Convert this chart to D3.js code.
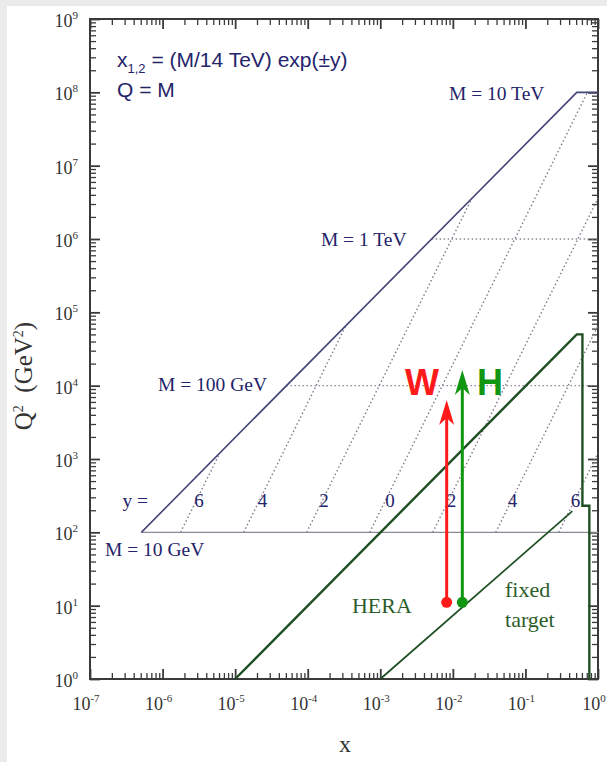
<!DOCTYPE html>
<html>
<head>
<meta charset="utf-8">
<script src="https://cdn.jsdelivr.net/npm/d3@7"></script>
<style>
body { margin: 0; background: #ebebeb; }
svg { display: block; }
</style>
</head>
<body>
<div id="chart-area"></div>
<script>
// decades on the axes
var xExponents = [-7, -6, -5, -4, -3, -2, -1, 0];
var yExponents = [0, 1, 2, 3, 4, 5, 6, 7, 8, 9];

// LHC kinematic limit (M = 10 GeV .. 10 TeV)
var boundary = [[5.1e-7, 100], [0.51, 1e8], [1, 1e8]];
var mass10GeV = [[5.1e-7, 100], [1, 100]];
var mass100GeV = [[5.1e-5, 1e4], [1, 1e4]];
var mass1TeV = [[5.1e-3, 1e6], [1, 1e6]];

// lines of constant rapidity: start on Q2 = 100, end on the limit
var rapidities = ["6", "4", "2", "0", "2", "4", "6"];
var rapidityStart = [[1.77e-6, 100], [1.31e-5, 100], [9.67e-5, 100], [7.14e-4, 100], [5.28e-3, 100], [0.039, 100], [0.288, 100]];
var rapidityEnd = [[6.14e-6, 1204], [3.35e-4, 6.57e4], [0.0183, 3.59e6], [0.714, 1e8], [1, 3.59e6], [1, 6.57e4], [1, 1204]];
var rapidityLabelX = [3.18e-6, 2.38e-5, 1.67e-4, 1.36e-3, 9.57e-3, 0.0664, 0.49];
var rapidityLabelQ2 = 222;

// HERA and fixed target regions
var hera = [[1e-5, 1], [0.51, 5.0e4], [0.61, 5.0e4], [0.61, 230], [0.76, 230], [0.76, 1]];
var fixedTarget = [[1e-3, 1], [0.443, 195]];

// W and H arrows
var bosons = ["W", "H"];
var bosonX = [8.22e-3, 0.0135];
var bosonFromQ2 = [11.1, 11.1];
var bosonToQ2 = [6380, 16400];
var bosonLabelX = [2.19e-3, 0.0215];
var bosonLabelQ2 = [7460, 7460];
var bosonColors = ["#ff1a1a", "#119611"];

var massLabels = ["M = 10 TeV", "M = 1 TeV", "M = 100 GeV", "M = 10 GeV"];
var massLabelX = [8.85e-3, 1.52e-4, 8.65e-7, 1.61e-7];
var massLabelQ2 = [7.9e7, 8.0e5, 8.5e3, 47.6];

var width = 607, height = 762;
var plotLeft = 90, plotRight = 598, plotTop = 19, plotBottom = 679;

var svg = d3.select("#chart-area").append("svg")
	.attr("width", width)
	.attr("height", height);

svg.append("rect").attr("width", width).attr("height", height).attr("fill", "#ebebeb");
svg.append("rect").attr("x", 7).attr("y", 6).attr("width", width - 7).attr("height", height - 6).attr("fill", "#ffffff");

var x = d3.scaleLog().domain([1e-7, 1]).range([plotLeft, plotRight]);
var y = d3.scaleLog().domain([1, 1e9]).range([plotBottom, plotTop]);

var line = d3.line()
	.x(d => x(d[0]))
	.y(d => y(d[1]));

var navy = "#24246a";
var darkGreen = "#1f4f22";

// ticks, all four sides pointing inward
var xMajor = xExponents.map(e => Math.pow(10, e));
var yMajor = yExponents.map(e => Math.pow(10, e));
var isMinor = v => Math.abs(Math.log10(v) - Math.round(Math.log10(v))) > 1e-9;
var xMinor = x.ticks().filter(isMinor);
var yMinor = y.ticks().filter(isMinor);

function drawAxis(axisFn, scale, vals, size, tx, ty) {
	var g = svg.append("g")
		.attr("transform", "translate(" + tx + "," + ty + ")")
		.call(axisFn(scale).tickValues(vals).tickSize(size).tickSizeOuter(0).tickFormat(""));
	g.select(".domain").remove();
	g.selectAll("line").attr("stroke", "#3a3a3a").attr("stroke-width", 1.3);
	return g;
}

drawAxis(d3.axisBottom, x, xMajor, -10, 0, plotBottom).selectAll("line").attr("stroke-width", 1.8);
drawAxis(d3.axisBottom, x, xMinor, -6, 0, plotBottom);
drawAxis(d3.axisTop, x, xMajor, -10, 0, plotTop).selectAll("line").attr("stroke-width", 1.8);
drawAxis(d3.axisTop, x, xMinor, -6, 0, plotTop);
drawAxis(d3.axisLeft, y, yMajor, -10, plotLeft, 0).selectAll("line").attr("stroke-width", 1.8);
drawAxis(d3.axisLeft, y, yMinor, -6, plotLeft, 0);
drawAxis(d3.axisRight, y, yMajor, -10, plotRight, 0).selectAll("line").attr("stroke-width", 1.8);
drawAxis(d3.axisRight, y, yMinor, -6, plotRight, 0);

svg.append("rect")
	.attr("x", plotLeft).attr("y", plotTop)
	.attr("width", plotRight - plotLeft).attr("height", plotBottom - plotTop)
	.attr("fill", "none")
	.attr("stroke", "#3a3a3a")
	.attr("stroke-width", 2);

// tick labels
var serif = "'Liberation Serif', 'DejaVu Serif', serif";

function powerLabel(sel) {
	sel.append("tspan").text("10");
	sel.append("tspan").attr("dy", -8).attr("font-size", 11).text(d => d);
}

svg.selectAll(".xlab").data(xExponents).enter().append("text")
	.attr("x", d => x(Math.pow(10, d)) - 4)
	.attr("y", 710)
	.attr("text-anchor", "middle")
	.attr("font-family", serif)
	.attr("font-size", 18)
	.attr("fill", "#333")
	.call(powerLabel);

svg.selectAll(".ylab").data(yExponents).enter().append("text")
	.attr("x", 78)
	.attr("y", d => y(Math.pow(10, d)) + 8)
	.attr("text-anchor", "end")
	.attr("font-family", serif)
	.attr("font-size", 18)
	.attr("fill", "#333")
	.call(powerLabel);

// axis titles
svg.append("text")
	.attr("x", 345).attr("y", 752)
	.attr("text-anchor", "middle")
	.attr("font-family", serif)
	.attr("font-size", 24)
	.attr("fill", "#333")
	.text("x");

var yTitle = svg.append("text")
	.attr("transform", "translate(32,376) rotate(-90)")
	.attr("text-anchor", "middle")
	.attr("font-family", serif)
	.attr("font-size", 25)
	.attr("fill", "#333");
yTitle.append("tspan").text("Q");
yTitle.append("tspan").attr("dy", -9).attr("font-size", 14).text("2");
yTitle.append("tspan").attr("dy", 9).text("\u00a0 (GeV");
yTitle.append("tspan").attr("dy", -9).attr("font-size", 14).text("2");
yTitle.append("tspan").attr("dy", 9).text(")");

// rapidity lines
svg.selectAll(".rap").data(rapidities).enter().append("path")
	.attr("d", (d, i) => line([rapidityStart[i], rapidityEnd[i]]))
	.attr("fill", "none")
	.attr("stroke", "#7c7c8c")
	.attr("stroke-width", 1.4)
	.attr("stroke-dasharray", "1.5,2.5");

// mass lines
[mass100GeV, mass1TeV].forEach(m => {
	svg.append("path").attr("d", line(m))
		.attr("fill", "none")
		.attr("stroke", "#8a8a96")
		.attr("stroke-width", 1.4)
		.attr("stroke-dasharray", "1.5,2.5");
});

svg.append("path").attr("d", line(mass10GeV))
	.attr("fill", "none")
	.attr("stroke", "#8a8a94")
	.attr("stroke-width", 1.3);

svg.append("path").attr("d", line(boundary))
	.attr("fill", "none")
	.attr("stroke", "#454578")
	.attr("stroke-width", 1.6);

// HERA & fixed target
svg.append("path").attr("d", line(hera))
	.attr("fill", "none")
	.attr("stroke", darkGreen)
	.attr("stroke-width", 2.4);

svg.append("path").attr("d", line(fixedTarget))
	.attr("fill", "none")
	.attr("stroke", darkGreen)
	.attr("stroke-width", 1.7);

// labels
svg.selectAll(".mlab").data(massLabels).enter().append("text")
	.attr("x", (d, i) => x(massLabelX[i]))
	.attr("y", (d, i) => y(massLabelQ2[i]))
	.attr("font-family", serif)
	.attr("font-size", 19.5)
	.attr("fill", navy)
	.text(d => d);

svg.selectAll(".rlab").data(rapidities).enter().append("text")
	.attr("x", (d, i) => x(rapidityLabelX[i]))
	.attr("y", y(rapidityLabelQ2))
	.attr("text-anchor", "middle")
	.attr("font-family", serif)
	.attr("font-size", 19)
	.attr("fill", navy)
	.text(d => d);

svg.append("text")
	.attr("x", x(6.3e-7)).attr("y", y(rapidityLabelQ2))
	.attr("text-anchor", "end")
	.attr("font-family", serif)
	.attr("font-size", 19.5)
	.attr("fill", navy)
	.text("y =");

var green = "#2c5e2c";
svg.append("text")
	.attr("x", x(4.07e-4)).attr("y", y(7.9))
	.attr("font-family", serif).attr("font-size", 22)
	.attr("fill", green)
	.text("HERA");

svg.append("text")
	.attr("x", x(0.0524)).attr("y", y(13.1))
	.attr("font-family", serif).attr("font-size", 22)
	.attr("fill", green)
	.text("fixed");

svg.append("text")
	.attr("x", x(0.0524)).attr("y", y(5.1))
	.attr("font-family", serif).attr("font-size", 22)
	.attr("fill", green)
	.text("target");

// formula text
var sans = "'Liberation Sans', Arial, sans-serif";
var f1 = svg.append("text")
	.attr("x", 117).attr("y", 67)
	.attr("font-family", sans).attr("font-size", 21)
	.attr("fill", navy);
f1.append("tspan").text("x");
f1.append("tspan").attr("dy", 6).attr("font-size", 13).text("1,2");
f1.append("tspan").attr("dy", -6).text(" = (M/14 TeV) exp(\u00b1y)");

svg.append("text")
	.attr("x", 117).attr("y", 97)
	.attr("font-family", sans).attr("font-size", 21)
	.attr("fill", navy)
	.text("Q = M");

// arrows
bosons.forEach((b, i) => {
	var px = x(bosonX[i]);
	var tip = y(bosonToQ2[i]);
	var c = bosonColors[i];
	svg.append("line")
		.attr("x1", px).attr("x2", px)
		.attr("y1", y(bosonFromQ2[i])).attr("y2", tip + 16)
		.attr("stroke", c)
		.attr("stroke-width", 3);
	svg.append("path")
		.attr("d", "M" + px + "," + tip + " L" + (px - 7.5) + "," + (tip + 25) + " L" + px + "," + (tip + 18) + " L" + (px + 7.5) + "," + (tip + 25) + "Z")
		.attr("fill", c);
	svg.append("circle")
		.attr("cx", px).attr("cy", y(bosonFromQ2[i]))
		.attr("r", 5.5)
		.attr("fill", c);
	svg.append("text")
		.attr("x", x(bosonLabelX[i])).attr("y", y(bosonLabelQ2[i]))
		.attr("font-family", sans)
		.attr("font-weight", "bold")
		.attr("font-size", 36)
		.attr("fill", c)
		.text(b);
});
</script>
</body>
</html>
